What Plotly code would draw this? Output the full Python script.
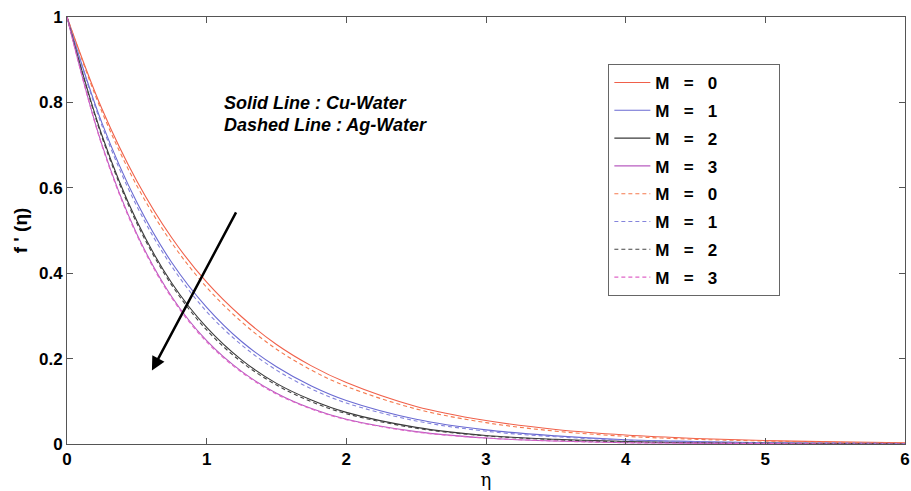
import plotly.graph_objects as go

eta = [0, 0.25, 0.5, 0.75, 1, 1.25, 1.5, 1.75, 2, 2.5, 3, 3.5, 4, 4.5, 5, 5.5, 6]

cu_m0 = [1, 0.785, 0.616, 0.483, 0.379, 0.298, 0.233, 0.183, 0.144, 0.088, 0.055, 0.034, 0.021, 0.013, 0.008, 0.005, 0.003]
cu_m1 = [1, 0.752, 0.566, 0.425, 0.320, 0.240, 0.181, 0.136, 0.102, 0.058, 0.033, 0.019, 0.010, 0.006, 0.003, 0.002, 0.001]
cu_m2 = [1, 0.723, 0.522, 0.377, 0.273, 0.197, 0.142, 0.103, 0.074, 0.039, 0.020, 0.011, 0.006, 0.003, 0.002, 0.001, 0.0005]
cu_m3 = [1, 0.701, 0.492, 0.345, 0.242, 0.170, 0.119, 0.083, 0.058, 0.029, 0.014, 0.007, 0.003, 0.002, 0.001, 0.0, 0.0]

ag_m0 = [1, 0.778, 0.605, 0.471, 0.367, 0.286, 0.222, 0.173, 0.135, 0.082, 0.050, 0.030, 0.018, 0.011, 0.007, 0.004, 0.002]
ag_m1 = [1, 0.746, 0.557, 0.416, 0.310, 0.232, 0.173, 0.129, 0.096, 0.054, 0.030, 0.017, 0.009, 0.005, 0.003, 0.002, 0.001]
ag_m2 = [1, 0.719, 0.517, 0.372, 0.267, 0.192, 0.138, 0.099, 0.071, 0.037, 0.019, 0.010, 0.005, 0.003, 0.001, 0.001, 0.0]
ag_m3 = [1, 0.699, 0.489, 0.342, 0.239, 0.168, 0.117, 0.082, 0.057, 0.028, 0.014, 0.007, 0.003, 0.002, 0.001, 0.0, 0.0]

m_labels = ["0", "1", "2", "3"]
solid_series = [cu_m0, cu_m1, cu_m2, cu_m3]
dashed_series = [ag_m0, ag_m1, ag_m2, ag_m3]
solid_colors = ["#f0604a", "#6a6ad2", "#3a3a3a", "#b85cc0"]
dashed_colors = ["#f57a4e", "#8484dc", "#444444", "#e064c8"]

NB = "\u00a0"
PAD = NB * 11 + "<span style='color:rgba(0,0,0,0)'>.</span>"

fig = go.Figure()
i = 0
for lab, ys, col in zip(m_labels, solid_series, solid_colors):
    fig.add_trace(go.Scatter(x=eta, y=ys, mode="lines", line=dict(color=col, width=1.1, shape="spline"),
                             legendgroup="g%d" % i, name="M" + NB * 3 + "=" + NB * 3 + lab + PAD))
    i += 1
for lab, ys, col in zip(m_labels, dashed_series, dashed_colors):
    fig.add_trace(go.Scatter(x=eta, y=ys, mode="lines",
                             line=dict(color=col, width=1.1, dash="4px,3px", shape="spline"),
                             legendgroup="g%d" % i, name="M" + NB * 3 + "=" + NB * 3 + lab + PAD))
    i += 1

font_b = dict(family="Liberation Sans, Arial", size=17, color="black", weight="bold")

fig.add_annotation(x=0.608, y=0.172, ax=1.216, ay=0.546, xref="x", yref="y", axref="x", ayref="y",
                   showarrow=True, arrowhead=2, arrowsize=1.1, arrowwidth=2.5, arrowcolor="black", text="")
fig.add_annotation(x=1.109, y=0.799, xref="x", yref="y", xanchor="left", yanchor="middle", showarrow=False,
                   text="<b><i>Solid Line : Cu-Water</i></b>",
                   font=dict(family="Liberation Sans, Arial", size=18, color="black"))
fig.add_annotation(x=1.109, y=0.748, xref="x", yref="y", xanchor="left", yanchor="middle", showarrow=False,
                   text="<b><i>Dashed Line : Ag-Water</i></b>",
                   font=dict(family="Liberation Sans, Arial", size=18, color="black"))

fig.update_layout(
    width=911, height=491,
    margin=dict(l=67, r=6, t=17, b=47),
    plot_bgcolor="white", paper_bgcolor="white",
    showlegend=True,
    legend=dict(x=0.646, y=0.89, xanchor="left", yanchor="top", bgcolor="white",
                bordercolor="#666666", borderwidth=1, itemwidth=36, tracegroupgap=2.7,
                font=dict(family="Liberation Sans, Arial", size=17, color="black", weight="bold")),
    xaxis=dict(range=[0, 6], tickvals=[0, 1, 2, 3, 4, 5, 6], ticktext=["0", "1", "2", "3", "4", "5", "6"],
               ticks="inside", ticklen=6, tickcolor="#555555", showline=True, linecolor="#555555",
               linewidth=1, mirror="ticks", showgrid=False, zeroline=False, tickfont=font_b, automargin=False,
               ticklabeloverflow="allow",
               title=dict(text="η", font=dict(family="DejaVu Serif", size=18, color="black"), standoff=0)),
    yaxis=dict(range=[0, 1], tickvals=[0, 0.2, 0.4, 0.6, 0.8, 1], ticktext=["0", "0.2", "0.4", "0.6", "0.8", "1"],
               ticks="inside", ticklen=6, tickcolor="#555555", showline=True, linecolor="#555555",
               linewidth=1, mirror="ticks", showgrid=False, zeroline=False, tickfont=font_b, automargin=False,
               ticklabeloverflow="allow",
               title=dict(text="<b>f ' (η)</b>", font=dict(family="Liberation Sans, Arial", size=19, color="black"), standoff=6)),
)

# remove the browser's default 8px page margin so the 911x491 figure fills the window exactly
fig.write_html("out.html", config={"displayModeBar": False},
               post_script="document.body.style.margin='0px';")
